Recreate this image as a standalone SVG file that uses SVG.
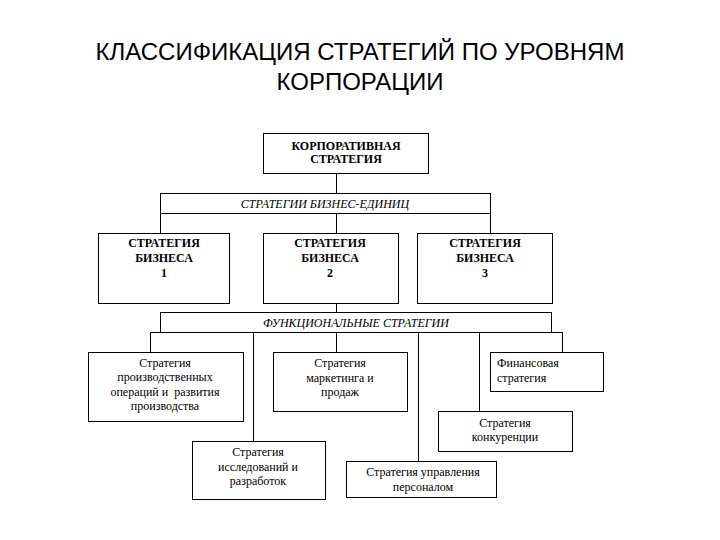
<svg xmlns="http://www.w3.org/2000/svg" width="720" height="540" viewBox="0 0 720 540">
<style>
.box{fill:#fff;stroke:#000;stroke-width:1}
.ln{stroke:#000;stroke-width:1;fill:none}
text.t{font-family:'Liberation Serif','Times New Roman','DejaVu Serif',serif;font-size:12px;fill:#000;text-anchor:middle}
text.b{font-weight:bold}
text.i{font-style:italic}
text.l{text-anchor:start}
text.title{font-family:'Liberation Sans',Arial,sans-serif;font-size:24px;fill:#000;text-anchor:middle}
</style>
<rect width="720" height="540" fill="#fff"/>
<text class="title" x="360" y="60">КЛАССИФИКАЦИЯ СТРАТЕГИЙ ПО УРОВНЯМ</text>
<text class="title" x="360" y="90">КОРПОРАЦИИ</text>
<g id="connectors">
<path class="ln" d="M336.5 173V193M160.5 213V233M336.5 213V233M490.5 213V233M336.5 303V312"/>
<path class="ln" d="M150 332.5H562M150.5 332V352M253.5 332V441M336.5 332V352M418.5 332V461M479.5 332V411M562.5 332V352"/>
</g>
<g id="corporate">
<rect class="box" x="263.5" y="133.5" width="165" height="40"/>
<text class="t b" x="346" y="150">КОРПОРАТИВНАЯ</text>
<text class="t b" x="346" y="163">СТРАТЕГИЯ</text>
</g>
<g id="business-units">
<rect class="box" x="160.5" y="193.5" width="330" height="20"/>
<text class="t i" x="325" y="208">СТРАТЕГИИ БИЗНЕС-ЕДИНИЦ</text>
</g>
<g id="business1">
<rect class="box" x="98.5" y="233.5" width="131" height="70"/>
<text class="t b" x="164" y="247">СТРАТЕГИЯ</text>
<text class="t b" x="164" y="262">БИЗНЕСА</text>
<text class="t b" x="164" y="277">1</text>
</g>
<g id="business2">
<rect class="box" x="263.5" y="233.5" width="135" height="70"/>
<text class="t b" x="330" y="247">СТРАТЕГИЯ</text>
<text class="t b" x="330" y="262">БИЗНЕСА</text>
<text class="t b" x="330" y="277">2</text>
</g>
<g id="business3">
<rect class="box" x="417.5" y="233.5" width="135" height="70"/>
<text class="t b" x="485" y="247">СТРАТЕГИЯ</text>
<text class="t b" x="485" y="262">БИЗНЕСА</text>
<text class="t b" x="485" y="277">3</text>
</g>
<g id="functional">
<rect class="box" x="160.5" y="312.5" width="391" height="20"/>
<text class="t i" x="356" y="327">ФУНКЦИОНАЛЬНЫЕ СТРАТЕГИИ</text>
</g>
<g id="production">
<rect class="box" x="88.5" y="352.5" width="155" height="69"/>
<text class="t" x="165" y="367">Стратегия</text>
<text class="t" x="165" y="381">производственных</text>
<text class="t" x="165" y="396" xml:space="preserve">операций и  развития</text>
<text class="t" x="165" y="410">производства</text>
</g>
<g id="marketing">
<rect class="box" x="273.5" y="352.5" width="134" height="59"/>
<text class="t" x="340" y="367">Стратегия</text>
<text class="t" x="340" y="382">маркетинга и</text>
<text class="t" x="340" y="396">продаж</text>
</g>
<g id="finance">
<rect class="box" x="490.5" y="352.5" width="113" height="39"/>
<text class="t l" x="497" y="367">Финансовая</text>
<text class="t l" x="497" y="382">стратегия</text>
</g>
<g id="competition">
<rect class="box" x="438.5" y="411.5" width="134" height="40"/>
<text class="t" x="505" y="427">Стратегия</text>
<text class="t" x="505" y="441">конкуренции</text>
</g>
<g id="rnd">
<rect class="box" x="192.5" y="441.5" width="133" height="58"/>
<text class="t" x="258" y="456">Стратегия</text>
<text class="t" x="258" y="471">исследований и</text>
<text class="t" x="258" y="485">разработок</text>
</g>
<g id="hr">
<rect class="box" x="346.5" y="461.5" width="150" height="36"/>
<text class="t" x="423" y="476">Стратегия управления</text>
<text class="t" x="423" y="491">персоналом</text>
</g>
</svg>
